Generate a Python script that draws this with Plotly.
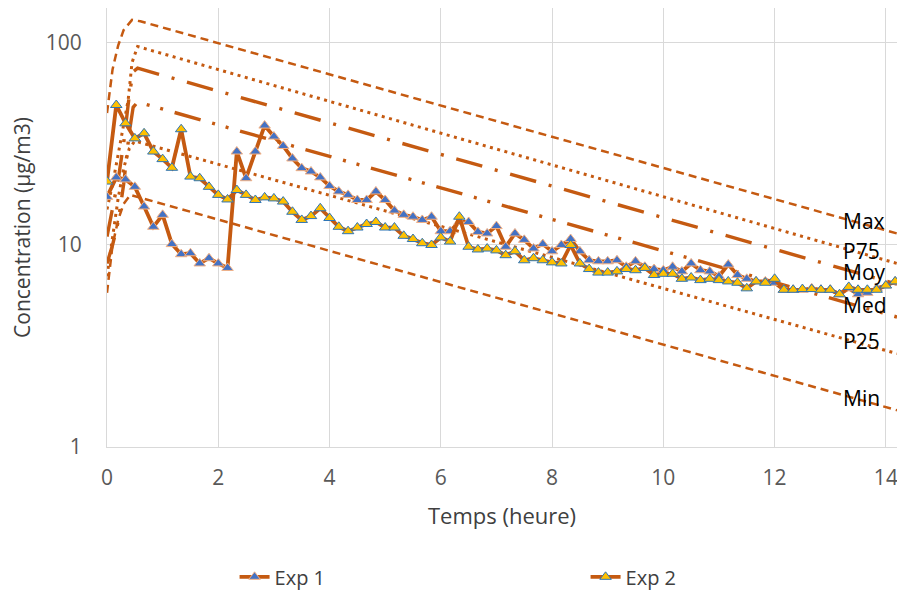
import math
import plotly.graph_objects as go

# Temps de mesure (minutes) pour les deux expériences
temps_min = [0, 10, 20, 30, 40, 50, 60, 70, 80, 90, 100, 110, 120, 130, 140, 150, 160, 170,
             180, 190, 200, 210, 220, 230, 240, 250, 260, 270, 280, 290, 300, 310, 320, 330,
             340, 350, 360, 370, 380, 390, 400, 410, 420, 430, 440, 450, 460, 470, 480, 490,
             500, 510, 520, 530, 540, 550, 560, 570, 580, 590, 600, 610, 620, 630, 640, 650,
             660, 670, 680, 690, 700, 710, 720, 730, 740, 750, 760, 770, 780, 790, 800, 810,
             820, 830, 840, 850]

exp1 = [17.3, 21.6, 21.1, 19.4, 15.5, 12.3, 14.1, 10.1, 9.0, 9.1, 8.1, 8.6, 8.1, 7.7,
        29.0, 21.4, 29.0, 39.0, 34.4, 30.9, 26.8, 24.0, 23.1, 21.6, 19.6, 18.4, 17.7, 16.7,
        16.7, 18.4, 16.7, 14.8, 14.1, 13.8, 13.3, 13.8, 11.7, 11.7, 13.0, 13.0, 11.6, 11.4,
        12.4, 9.8, 11.4, 10.6, 9.6, 10.1, 9.3, 10.0, 10.7, 9.3, 8.4, 8.3, 8.3, 8.4, 7.8,
        8.3, 7.8, 7.6, 7.5, 7.8, 7.4, 8.1, 7.5, 7.4, 7.0, 8.0, 7.1, 6.8, 6.6, 6.6, 6.5,
        6.0, 6.0, 6.0, 6.1, 6.0, 6.0, 5.7, 6.1, 5.7, 5.8, 6.1, 6.3, 6.6]

exp2 = [20.6, 49.3, 40.0, 33.7, 35.7, 29.0, 26.6, 24.1, 37.4, 21.8, 21.4, 19.4, 17.7, 16.8,
        18.7, 17.7, 16.7, 17.2, 17.0, 16.4, 14.6, 13.3, 13.9, 15.2, 13.6, 12.3, 11.7, 12.2,
        12.7, 13.0, 12.2, 12.2, 11.1, 10.7, 10.2, 10.0, 10.9, 10.4, 13.8, 9.8, 9.5, 9.6,
        9.4, 8.9, 9.3, 8.4, 8.6, 8.4, 8.2, 8.1, 10.0, 8.1, 7.6, 7.3, 7.3, 7.4, 7.6,
        7.5, 7.7, 7.1, 7.2, 7.2, 6.8, 6.9, 6.7, 6.8, 6.7, 6.6, 6.5, 6.1, 6.6, 6.5, 6.8,
        6.0, 6.0, 6.05, 6.05, 6.0, 6.0, 5.7, 6.2, 6.0, 6.0, 6.0, 6.3, 6.6]

# Courbes modélisées (heures, µg/m3)
max_t = [0, 0.1, 0.2, 0.3, 0.45, 0.6, 14.2]
max_c = [45, 74, 97, 116, 130, 128, 11.4]
p75_t = [0, 0.1, 0.2, 0.3, 0.38, 0.45, 0.55, 14.2]
p75_c = [15, 20, 28, 40, 52, 80, 96, 8.1]
moy_t = [0, 0.1, 0.2, 0.3, 0.4, 0.47, 0.55, 14.2]
moy_c = [11, 15, 21, 32, 55, 72, 75, 6.4]
med_t = [0, 0.1, 0.2, 0.3, 0.4, 0.47, 0.55, 14.2]
med_c = [8.1, 10, 13, 20, 36, 48, 51, 4.4]
p25_t = [0, 0.1, 0.2, 0.3, 0.4, 0.5, 14.2]
p25_c = [7, 11, 17, 24, 30, 32.7, 2.9]
min_t = [0, 0.1, 0.2, 0.3, 0.42, 14.2]
min_c = [5.8, 10.0, 13.3, 16.0, 17.7, 1.52]

x_ticks = [0, 2, 4, 6, 8, 10, 12, 14]
y_ticks = [1, 10, 100]

temps_h = [m / 60 for m in temps_min]

ORANGE = "#C55A11"
FONT = "'Open Sans', Lato, sans-serif"

courbes = [
    ("Max", max_t, max_c, "8px,5px", 2.5),
    ("P75", p75_t, p75_c, "3px,4.5px", 3),
    ("Moy", moy_t, moy_c, "27px,13px,3px,13px", 3.4),
    ("Med", med_t, med_c, "27px,12px,3px,11px,3px,12px", 3.4),
    ("P25", p25_t, p25_c, "3px,4.5px", 3),
    ("Min", min_t, min_c, "8px,5px", 2.5),
]

fig = go.Figure()

for nom, t, c, dash, width in courbes:
    fig.add_trace(go.Scatter(
        x=t, y=c, mode="lines", name=nom, showlegend=False,
        line=dict(color=ORANGE, width=width, dash=dash),
    ))

fig.add_trace(go.Scatter(
    x=temps_h, y=exp1, mode="lines+markers", name="Exp 1",
    line=dict(color=ORANGE, width=3.8),
    marker=dict(symbol="triangle-up", size=10, color="#4472C4",
                line=dict(color="#F4B183", width=1)),
))
fig.add_trace(go.Scatter(
    x=temps_h, y=exp2, mode="lines+markers", name="Exp 2",
    line=dict(color=ORANGE, width=3.8),
    marker=dict(symbol="triangle-up", size=10, color="#FFC000",
                line=dict(color="#2E75B6", width=1)),
))

# Etiquettes en bout de courbe
for nom, t, c, dash, width in courbes:
    fig.add_annotation(
        x=13.2, y=math.log10(c[-1]) + 0.06, xref="x", yref="y",
        text=nom, showarrow=False, xanchor="left", yanchor="middle",
        font=dict(family=FONT, size=21, color="#000000"),
    )

# la page ajoute une marge de 8 px : la figure est décalée d'autant
fig.update_layout(
    width=892, height=584,
    margin=dict(l=99, r=3, t=0, b=145),
    paper_bgcolor="white", plot_bgcolor="white",
    font=dict(family=FONT, size=21, color="#595959"),
    legend=dict(
        orientation="h", xref="container", yref="container",
        x=0.254, y=0.026, xanchor="left", yanchor="middle",
        entrywidth=306, font=dict(size=20, color="#404040"),
    ),
)

fig.update_xaxes(
    range=[0, 14.2], tickvals=x_ticks, showgrid=True, gridcolor="#D9D9D9",
    gridwidth=1, showline=True, linecolor="#D9D9D9", zeroline=False,
    ticks="", ticklabelstandoff=12, automargin=False, ticklabeloverflow="allow",
    title=dict(text="Temps (heure)", standoff=18, font=dict(size=22, color="#404040")),
)
fig.update_yaxes(
    type="log", range=[0, 2.173], tickvals=y_ticks, ticktext=["1", "10", "100"],
    showgrid=True, gridcolor="#D9D9D9", gridwidth=1, showline=True,
    linecolor="#D9D9D9", ticks="", ticklabelstandoff=20, automargin=False,
    title=dict(text="Concentration (µg/m3)", standoff=10,
               font=dict(size=21, color="#404040")),
)

fig.write_html("out.html")
